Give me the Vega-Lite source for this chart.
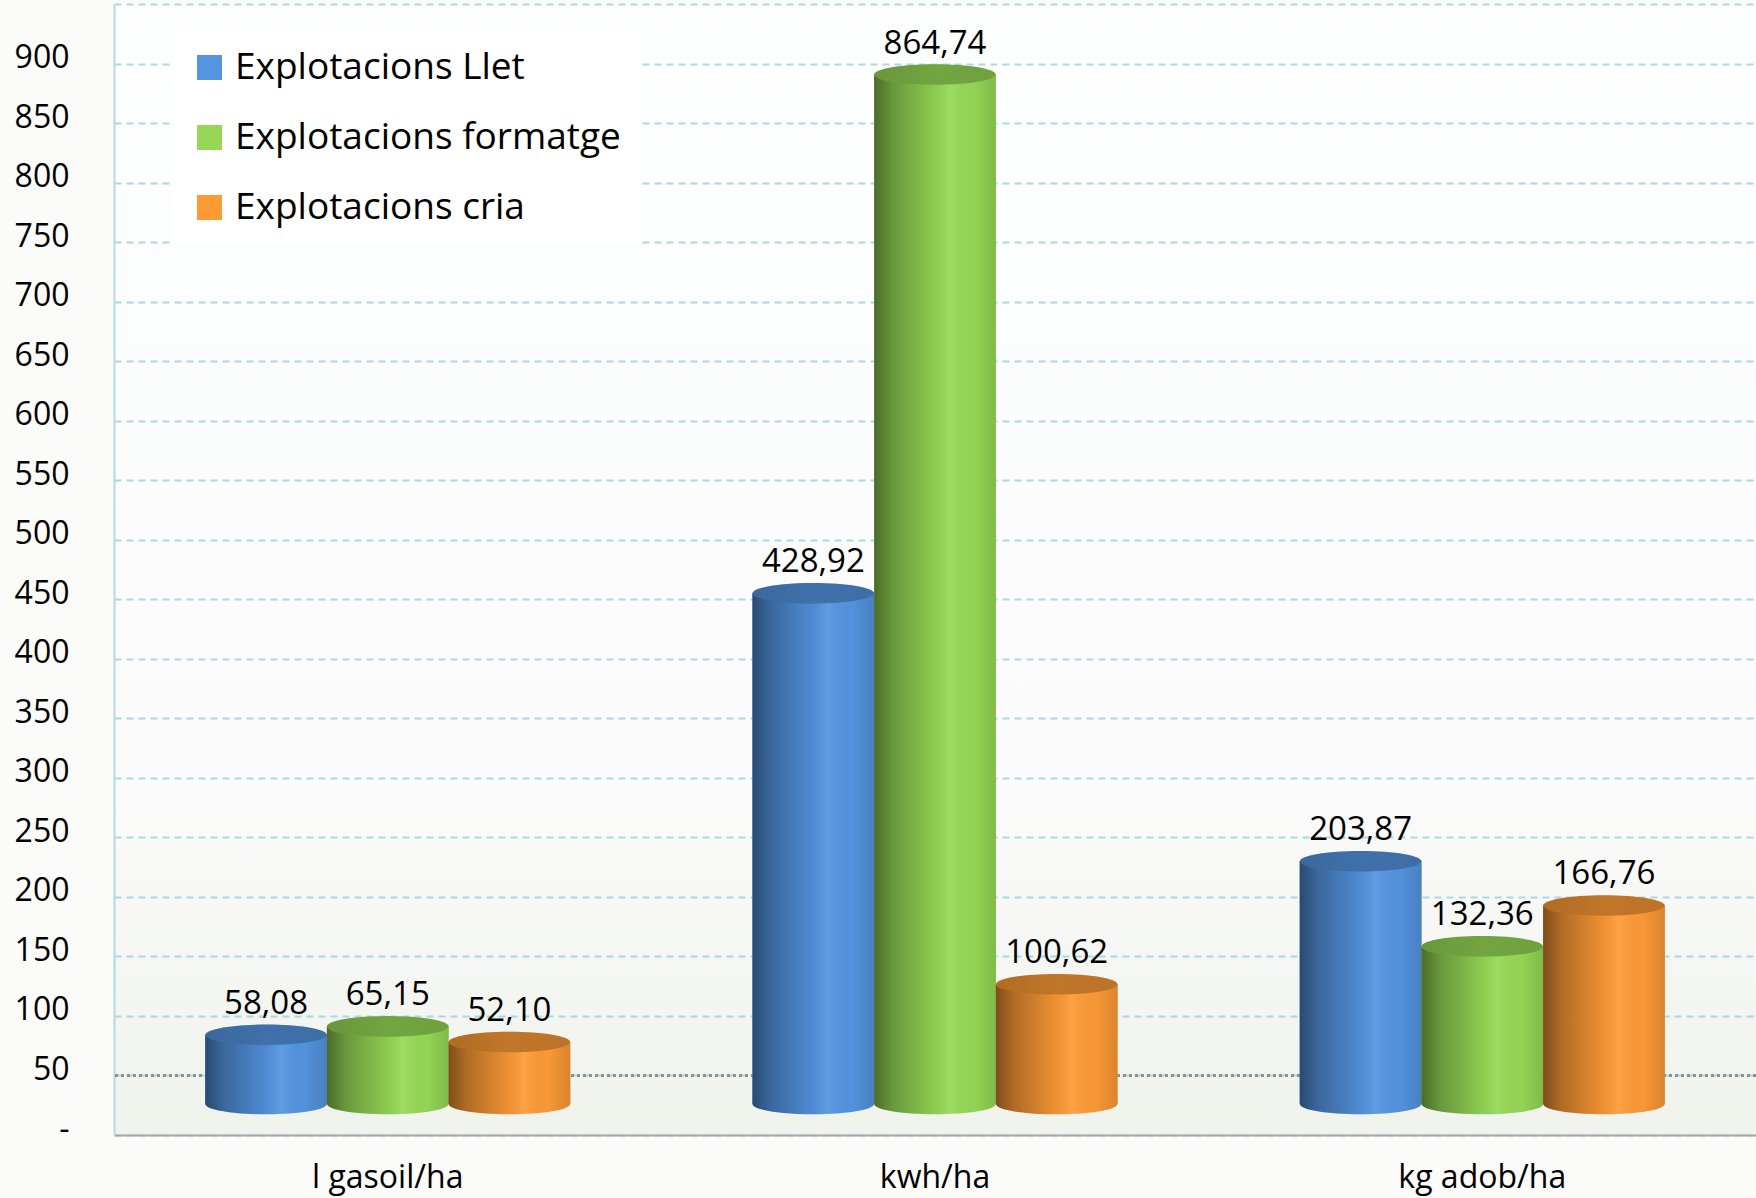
{
  "$schema": "https://vega.github.io/schema/vega-lite/v6.json",
  "width": 1642,
  "height": 1131,
  "autosize": {"type": "none"},
  "padding": {"left": 114, "top": 4, "right": 0, "bottom": 63},
  "background": "#fbfbfa",
  "config": {
    "font": "Open Sans",
    "locale": {"number": {"decimal": ",", "thousands": ".", "grouping": [3], "currency": ["", " €"]}},
    "view": {"stroke": null, "fill": {"gradient": "linear", "x1": 0, "y1": 0, "x2": 0, "y2": 1, "stops": [{"offset": 0, "color": "#fdfefe"}, {"offset": 0.7, "color": "#fafbfa"}, {"offset": 1, "color": "#f0f2ec"}]}},
    "legend": {"orient": "none", "legendX": 59, "legendY": 27, "fillColor": "#ffffff", "padding": 18, "symbolType": "square", "symbolSize": 625, "labelFontSize": 37, "labelColor": "#000000", "rowPadding": 32, "symbolOpacity": 1, "labelOffset": 7, "symbolStrokeWidth": 0, "labelLimit": 600}
  },
  "data": {"values": [
    {"indicador": "l gasoil/ha", "tipus": "Explotacions Llet", "valor": 58.08},
    {"indicador": "l gasoil/ha", "tipus": "Explotacions formatge", "valor": 65.15},
    {"indicador": "l gasoil/ha", "tipus": "Explotacions cria", "valor": 52.10},
    {"indicador": "kwh/ha", "tipus": "Explotacions Llet", "valor": 428.92},
    {"indicador": "kwh/ha", "tipus": "Explotacions formatge", "valor": 864.74},
    {"indicador": "kwh/ha", "tipus": "Explotacions cria", "valor": 100.62},
    {"indicador": "kg adob/ha", "tipus": "Explotacions Llet", "valor": 203.87},
    {"indicador": "kg adob/ha", "tipus": "Explotacions formatge", "valor": 132.36},
    {"indicador": "kg adob/ha", "tipus": "Explotacions cria", "valor": 166.76}
  ]},
  "layer": [
    {
      "mark": {"type": "bar", "yOffset": -31, "y2Offset": -31},
      "encoding": {
        "x": {"field": "indicador", "type": "nominal", "sort": ["l gasoil/ha", "kwh/ha", "kg adob/ha"], "scale": {"paddingInner": 0.333, "paddingOuter": 0.1667}, "title": null,
          "axis": {"labelAngle": 0, "labelFontSize": 32, "labelColor": "#000000", "labelPadding": 27, "ticks": false, "domainColor": "#a6a6a6", "domainWidth": 2}},
        "xOffset": {"field": "tipus", "type": "nominal", "sort": ["Explotacions Llet", "Explotacions formatge", "Explotacions cria"], "scale": {"paddingInner": 0, "paddingOuter": 0}},
        "y": {"field": "valor", "type": "quantitative", "title": null, "scale": {"domain": [0, 950], "nice": false},
          "axis": {"values": [0, 50, 100, 150, 200, 250, 300, 350, 400, 450, 500, 550, 600, 650, 700, 750, 800, 850, 900, 950],
            "labelExpr": "datum.value == 0 ? '-' : (datum.value == 950 ? '' : datum.label)", "labelFontSize": 32, "labelColor": "#000000", "labelPadding": 45, "ticks": false, "labelOffset": -6,
            "domainColor": "#b3dae5", "domainWidth": 2, "grid": true, "gridColor": "#a9d8e5", "gridDash": [7, 5], "gridWidth": 2, "gridOpacity": 1}},
        "color": {"field": "tipus", "type": "nominal", "title": null, "scale": {"domain": ["Explotacions Llet", "Explotacions formatge", "Explotacions cria"], "range": ["#5494e0", "#96d855", "#fd9a36"]}}
      }
    },
    {
      "mark": {"type": "rule", "color": "#8c9194", "strokeWidth": 2, "strokeDash": [3, 3]},
      "encoding": {"y": {"datum": 50, "type": "quantitative", "title": null}}
    },
    {
      "mark": {"type": "point", "filled": true, "opacity": 1, "strokeWidth": 0, "shape": "M-1,0 A1,0.17 0 1,1 1,0 A1,0.17 0 1,1 -1,0 Z", "size": 14762, "yOffset": -31},
      "encoding": {
        "x": {"field": "indicador", "type": "nominal", "sort": ["l gasoil/ha", "kwh/ha", "kg adob/ha"], "title": null},
        "xOffset": {"field": "tipus", "type": "nominal", "sort": ["Explotacions Llet", "Explotacions formatge", "Explotacions cria"]},
        "y": {"datum": 0, "type": "quantitative", "title": null},
        "color": {"field": "tipus", "type": "nominal", "title": null}
      }
    },
    {
      "mark": {"type": "point", "filled": true, "opacity": 1, "strokeWidth": 0, "shape": "M-1,0 A1,0.17 0 1,1 1,0 A1,0.17 0 1,1 -1,0 Z", "size": 14762, "yOffset": -31,
        "fill": {"gradient": "linear", "x1": 0, "y1": 0, "x2": 1, "y2": 0, "stops": [{"offset": 0, "color": "rgba(0,0,0,0.5)"}, {"offset": 0.15, "color": "rgba(0,0,0,0.3)"}, {"offset": 0.5, "color": "rgba(0,0,0,0.06)"}, {"offset": 0.62, "color": "rgba(255,255,255,0.08)"}, {"offset": 0.82, "color": "rgba(0,0,0,0.02)"}, {"offset": 1, "color": "rgba(0,0,0,0.14)"}]}},
      "encoding": {
        "x": {"field": "indicador", "type": "nominal", "sort": ["l gasoil/ha", "kwh/ha", "kg adob/ha"], "title": null},
        "xOffset": {"field": "tipus", "type": "nominal", "sort": ["Explotacions Llet", "Explotacions formatge", "Explotacions cria"]},
        "y": {"datum": 0, "type": "quantitative", "title": null}
      }
    },
    {
      "mark": {"type": "bar", "yOffset": -31, "y2Offset": -31},
      "encoding": {
        "x": {"field": "indicador", "type": "nominal", "sort": ["l gasoil/ha", "kwh/ha", "kg adob/ha"], "title": null},
        "xOffset": {"field": "tipus", "type": "nominal", "sort": ["Explotacions Llet", "Explotacions formatge", "Explotacions cria"]},
        "y": {"field": "valor", "type": "quantitative", "title": null},
        "color": {"field": "tipus", "type": "nominal", "title": null}
      }
    },
    {
      "mark": {"type": "bar", "yOffset": -31, "y2Offset": -31,
        "fill": {"gradient": "linear", "x1": 0, "y1": 0, "x2": 1, "y2": 0, "stops": [{"offset": 0, "color": "rgba(0,0,0,0.5)"}, {"offset": 0.15, "color": "rgba(0,0,0,0.3)"}, {"offset": 0.5, "color": "rgba(0,0,0,0.06)"}, {"offset": 0.62, "color": "rgba(255,255,255,0.08)"}, {"offset": 0.82, "color": "rgba(0,0,0,0.02)"}, {"offset": 1, "color": "rgba(0,0,0,0.14)"}]}},
      "encoding": {
        "x": {"field": "indicador", "type": "nominal", "sort": ["l gasoil/ha", "kwh/ha", "kg adob/ha"], "title": null},
        "xOffset": {"field": "tipus", "type": "nominal", "sort": ["Explotacions Llet", "Explotacions formatge", "Explotacions cria"]},
        "y": {"field": "valor", "type": "quantitative", "title": null}
      }
    },
    {
      "mark": {"type": "point", "filled": true, "opacity": 1, "strokeWidth": 0, "shape": "M-1,0 A1,0.17 0 1,1 1,0 A1,0.17 0 1,1 -1,0 Z", "size": 14762, "yOffset": -31},
      "encoding": {
        "x": {"field": "indicador", "type": "nominal", "sort": ["l gasoil/ha", "kwh/ha", "kg adob/ha"], "title": null},
        "xOffset": {"field": "tipus", "type": "nominal", "sort": ["Explotacions Llet", "Explotacions formatge", "Explotacions cria"]},
        "y": {"field": "valor", "type": "quantitative", "title": null},
        "color": {"field": "tipus", "type": "nominal", "title": null}
      }
    },
    {
      "mark": {"type": "point", "filled": true, "opacity": 1, "strokeWidth": 0, "shape": "M-1,0 A1,0.17 0 1,1 1,0 A1,0.17 0 1,1 -1,0 Z", "size": 14762, "yOffset": -31,
        "fill": {"gradient": "linear", "x1": 0, "y1": 0, "x2": 1, "y2": 0, "stops": [{"offset": 0, "color": "rgba(0,0,0,0.3)"}, {"offset": 0.5, "color": "rgba(0,0,0,0.24)"}, {"offset": 1, "color": "rgba(0,0,0,0.26)"}]}},
      "encoding": {
        "x": {"field": "indicador", "type": "nominal", "sort": ["l gasoil/ha", "kwh/ha", "kg adob/ha"], "title": null},
        "xOffset": {"field": "tipus", "type": "nominal", "sort": ["Explotacions Llet", "Explotacions formatge", "Explotacions cria"]},
        "y": {"field": "valor", "type": "quantitative", "title": null}
      }
    },
    {
      "mark": {"type": "text", "dy": -62, "fontSize": 33, "color": "#000000", "baseline": "middle", "align": "center"},
      "encoding": {
        "x": {"field": "indicador", "type": "nominal", "sort": ["l gasoil/ha", "kwh/ha", "kg adob/ha"], "title": null},
        "xOffset": {"field": "tipus", "type": "nominal", "sort": ["Explotacions Llet", "Explotacions formatge", "Explotacions cria"]},
        "y": {"field": "valor", "type": "quantitative", "title": null},
        "text": {"field": "valor", "type": "quantitative", "format": ".2f"}
      }
    }
  ]
}
